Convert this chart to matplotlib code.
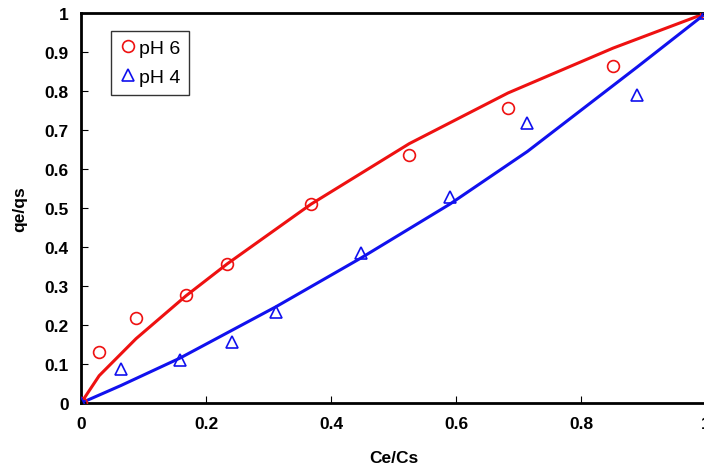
import numpy as np
import matplotlib.pyplot as plt

plt.rcParams['font.family'] = ['Liberation Sans', 'DejaVu Sans']

# measured points, pH 6
x_ph6 = [0, 0.029, 0.088, 0.168, 0.234, 0.368, 0.525, 0.683, 0.851, 1.0]
y_ph6 = [0, 0.131, 0.218, 0.277, 0.356, 0.510, 0.636, 0.756, 0.864, 1.0]
fit_ph6 = [0, 0.07, 0.165, 0.275, 0.357, 0.51, 0.665, 0.795, 0.91, 1.0]

# measured points, pH 4
x_ph4 = [0, 0.064, 0.158, 0.242, 0.312, 0.448, 0.590, 0.714, 0.890, 1.0]
y_ph4 = [0, 0.087, 0.110, 0.156, 0.233, 0.385, 0.528, 0.718, 0.790, 1.0]
fit_ph4 = [0, 0.045, 0.115, 0.187, 0.247, 0.372, 0.51, 0.645, 0.862, 1.0]

ticks = [0, 0.1, 0.2, 0.3, 0.4, 0.5, 0.6, 0.7, 0.8, 0.9, 1]
xticks = [0, 0.2, 0.4, 0.6, 0.8, 1]

fig = plt.figure(figsize=(7.04, 4.77), dpi=100)
ax = fig.add_axes([0.1151, 0.153, 0.888, 0.8176])

ax.plot(x_ph6, fit_ph6, color='#ee1111', lw=2.2, zorder=2)
ax.plot(x_ph4, fit_ph4, color='#1111ee', lw=2.2, zorder=2)
ax.plot(x_ph6, y_ph6, 'o', mfc='none', mec='#ee1111', ms=8.5, mew=1.2,
        label='pH 6', zorder=3)
ax.plot(x_ph4, y_ph4, '^', mfc='none', mec='#1111ee', ms=9, mew=1.2,
        label='pH 4', zorder=3)

ax.set_xlim(0, 1)
ax.set_ylim(0, 1)
ax.set_xticks(xticks)
ax.set_yticks(ticks)
ax.set_xticklabels(['0', '0.2', '0.4', '0.6', '0.8', '1'])
ax.set_yticklabels(['0', '0.1', '0.2', '0.3', '0.4', '0.5', '0.6', '0.7', '0.8', '0.9', '1'])
ax.tick_params(direction='in', length=5, width=0.8, labelsize=12.5, pad=9)
for lab in ax.get_xticklabels() + ax.get_yticklabels():
    lab.set_fontweight('bold')

for s in ax.spines.values():
    s.set_linewidth(2)

ax.set_xlabel('Ce/Cs', fontsize=12.5, fontweight='bold', labelpad=14)
ax.set_ylabel('qe/qs', fontsize=12.5, fontweight='bold', labelpad=12)

leg = ax.legend(loc='upper left', bbox_to_anchor=(0.048, 0.955), fontsize=14,
                frameon=True, fancybox=False, edgecolor='black',
                handletextpad=0.2, handlelength=0.8, borderpad=0.45,
                labelspacing=0.6, borderaxespad=0)
leg.get_frame().set_linewidth(1)

fig.savefig('out.png', dpi=100)
